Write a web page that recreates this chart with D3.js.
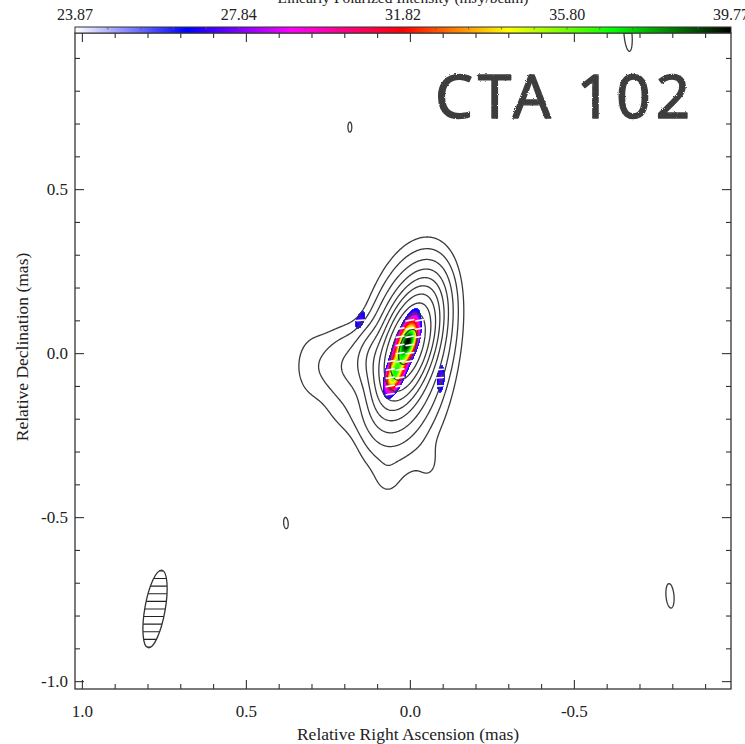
<!DOCTYPE html>
<html>
<head>
<meta charset="utf-8">
<script src="https://cdn.jsdelivr.net/npm/d3@7"></script>
<style>
  body { margin: 0; background: #fff; }
  svg { display: block; }
  text { font-family: "Liberation Serif", "DejaVu Serif", serif; fill: #222; }
</style>
</head>
<body>
<svg id="chart" width="745" height="744"></svg>
<script>
// ---- Total intensity model (convolved Gaussian components) ----
// offsets in mas (RA positive to the east), peak in Jy/beam, FWHM in mas, PA in deg east of north
const compName = ["core", "inner", "mid", "halo", "jetE1", "jetE2", "jetE3", "jetE4", "s1", "s2", "n1", "n2", "n3", "n4"];
const compX    = [0.006, 0.008, 0.010, 0.005, 0.100, 0.190, 0.300, 0.200, 0.070, -0.060, 0.183, 0.378, -0.665, -0.793];
const compY    = [0.020, 0.005, -0.020, -0.050, -0.020, -0.040, -0.040, -0.190, -0.380, -0.340, 0.689, -0.518, 0.972, -0.740];
const compAmp  = [0.920, 0.080, 0.010, 0.0015, 0.020, 0.0055, 0.0020, 0.0012, 0.0009, 0.0009, 0.0021, 0.0021, 0.0021, 0.0021];
const compMaj  = [0.172, 0.270, 0.380, 0.540, 0.118, 0.165, 0.200, 0.120, 0.090, 0.100, 0.045, 0.050, 0.150, 0.108];
const compMin  = [0.072, 0.115, 0.165, 0.230, 0.082, 0.118, 0.110, 0.090, 0.060, 0.060, 0.017, 0.020, 0.035, 0.035];
const compPA   = [-18, -15, -8, -4, 0, 0, 0, 40, 0, 0, 0, 5, 5, 5];

// contour levels (Jy/beam), doubling steps
const contourLevels = [0.0015, 0.003, 0.006, 0.012, 0.024, 0.048, 0.096, 0.192, 0.384, 0.768];

// ---- Linearly polarized intensity components (mJy/beam) ----
const polX    = [0.024, 0.000, 0.052, 0.152, -0.095];
const polY    = [0.000, 0.037, -0.073, 0.101, -0.082];
const polAmp  = [34.0, 7.0, 5.0, 27.3, 27.3];
const polMaj  = [0.456, 0.090, 0.080, 0.207, 0.276];
const polMin  = [0.107, 0.050, 0.045, 0.092, 0.080];
const polPA   = [-18, -18, -18, -20, -5];
const polEVPA = [100, 106, 97, 95, 93];   // electric vector position angle, deg
const polCut  = 26.0;                     // blanking level of the raster (mJy/beam)

// colour bar
const colorTicks    = [23.87, 27.84, 31.82, 35.80, 39.77];
const colorStopFrac = [0, 0.17, 0.33, 0.50, 0.66, 0.82, 1];
const colorStopHex  = ["#ffffff", "#0000ff", "#ff00ff", "#ff0000", "#ffff00", "#00ff00", "#000000"];

// axes
const xMajorTicks = [1.0, 0.5, 0.0, -0.5];
const yMajorTicks = [0.5, 0.0, -0.5, -1.0];
const minorTicks  = [-0.9, -0.8, -0.7, -0.6, -0.4, -0.3, -0.2, -0.1, 0.1, 0.2, 0.3, 0.4, 0.6, 0.7, 0.8, 0.9];

// restoring beam
const beamX = 0.777, beamY = -0.780, beamMaj = 0.240, beamMin = 0.062, beamPA = -10;

// ---------------------------------------------------------------
const svg = d3.select("#chart");
const L = 75, R = 731, T = 33, B = 689;
const xScale = d3.scaleLinear().domain([1.021, -0.979]).range([L, R]);
const yScale = d3.scaleLinear().domain([0.976, -1.024]).range([T, B]);
const pxPerMas = Math.abs(xScale(1) - xScale(0));

const defs = svg.append("defs");
defs.append("clipPath").attr("id", "plotClip")
  .append("rect").attr("x", L).attr("y", T).attr("width", R - L).attr("height", B - T);

function gaussOne(k, xs, ys, amp, maj, min, pa, x, y) {
  const th = pa[k] * Math.PI / 180, sn = Math.sin(th), cs = Math.cos(th);
  const dx = x - xs[k], dy = y - ys[k];
  const u = dx * sn + dy * cs, v = dx * cs - dy * sn;
  return amp[k] * Math.exp(-4 * Math.LN2 * (u * u / (maj[k] * maj[k]) + v * v / (min[k] * min[k])));
}
function polAt(x, y) {
  let s = 0;
  for (let k = 0; k < polX.length; k++) s += gaussOne(k, polX, polY, polAmp, polMaj, polMin, polPA, x, y);
  return s;
}

// ---- total intensity grid ----
const step = 0.003;
const [xHi, xLo] = xScale.domain();
const [yHi, yLo] = yScale.domain();
const nx = Math.round((xHi - xLo) / step), ny = Math.round((yHi - yLo) / step);
const grid = new Float64Array(nx * ny);
compX.forEach((cx, k) => {
  const cy = compY[k];
  const th = compPA[k] * Math.PI / 180, sn = Math.sin(th), cs = Math.cos(th);
  const km = 4 * Math.LN2 / (compMaj[k] ** 2), kn = 4 * Math.LN2 / (compMin[k] ** 2);
  const reach = compMaj[k] * 2.3;
  const i0 = Math.max(0, Math.floor((xHi - (cx + reach)) / step));
  const i1 = Math.min(nx - 1, Math.ceil((xHi - (cx - reach)) / step));
  const j0 = Math.max(0, Math.floor((yHi - (cy + reach)) / step));
  const j1 = Math.min(ny - 1, Math.ceil((yHi - (cy - reach)) / step));
  for (let j = j0; j <= j1; j++) {
    const dy = yHi - (j + 0.5) * step - cy;
    for (let i = i0; i <= i1; i++) {
      const dx = xHi - (i + 0.5) * step - cx;
      const u = dx * sn + dy * cs, v = dx * cs - dy * sn;
      grid[j * nx + i] += compAmp[k] * Math.exp(-(km * u * u + kn * v * v));
    }
  }
});

const contours = d3.contours().size([nx, ny]).thresholds(contourLevels)(grid);
const gridProj = d3.geoTransform({
  point(gx, gy) { this.stream.point(xScale(xHi - gx * step), yScale(yHi - gy * step)); }
});
const contourPath = d3.geoPath(gridProj);

// ---- colour map ----
const [pMin, pMax] = d3.extent(colorTicks);
const colorScale = d3.scaleLinear()
  .domain(colorStopFrac.map(f => pMin + f * (pMax - pMin)))
  .range(colorStopHex)
  .clamp(true);

// ---- polarized intensity raster ----
const cw = R - L, ch = B - T;
const canvas = document.createElement("canvas");
canvas.width = cw; canvas.height = ch;
const ctx = canvas.getContext("2d");
const img = ctx.createImageData(cw, ch);
for (let py = 0; py < ch; py++) {
  const y = yScale.invert(T + py + 0.5);
  for (let px = 0; px < cw; px++) {
    const x = xScale.invert(L + px + 0.5);
    const p = polAt(x, y);
    if (p >= polCut) {
      const c = d3.rgb(colorScale(p));
      const o = (py * cw + px) * 4;
      img.data[o] = c.r; img.data[o + 1] = c.g; img.data[o + 2] = c.b; img.data[o + 3] = 255;
    }
  }
}
ctx.putImageData(img, 0, 0);

const plot = svg.append("g").attr("clip-path", "url(#plotClip)");
plot.append("image")
  .attr("x", L).attr("y", T).attr("width", cw).attr("height", ch)
  .attr("href", canvas.toDataURL());

plot.append("g").selectAll("path").data(contours).join("path")
  .attr("d", contourPath)
  .attr("fill", "none")
  .attr("stroke", "#3a3a3a")
  .attr("stroke-width", 1.3)
  .attr("stroke-linejoin", "round");

// ---- EVPA sticks on a regular sampling grid ----
const stickDx = 0.030, stickDy = 0.025, stickLen = 0.024;
const sticks = [];
for (let ix = -10; ix <= 10; ix++) {
  for (let iy = -12; iy <= 12; iy++) {
    const gx = ix * stickDx, gy = iy * stickDy;
    const p = polAt(gx, gy);
    if (p >= polCut + 0.3) {
      let best = 0, bv = -1;
      polX.forEach((_, k) => {
        const v = gaussOne(k, polX, polY, polAmp, polMaj, polMin, polPA, gx, gy);
        if (v > bv) { bv = v; best = k; }
      });
      sticks.push({ x: gx, y: gy, evpa: polEVPA[best] });
    }
  }
}
const rad = d => d.evpa * Math.PI / 180;
plot.append("g").selectAll("line").data(sticks).join("line")
  .attr("x1", d => xScale(d.x - Math.sin(rad(d)) * stickLen / 2))
  .attr("y1", d => yScale(d.y - Math.cos(rad(d)) * stickLen / 2))
  .attr("x2", d => xScale(d.x + Math.sin(rad(d)) * stickLen / 2))
  .attr("y2", d => yScale(d.y + Math.cos(rad(d)) * stickLen / 2))
  .attr("stroke", "#fff").attr("stroke-width", 1.6).attr("stroke-linecap", "round");

// ---- restoring beam ----
const bcx = xScale(beamX), bcy = yScale(beamY);
const brx = beamMin / 2 * pxPerMas, bry = beamMaj / 2 * pxPerMas;
defs.append("clipPath").attr("id", "beamClip")
  .append("ellipse").attr("cx", bcx).attr("cy", bcy).attr("rx", brx).attr("ry", bry)
  .attr("transform", `rotate(${-beamPA},${bcx},${bcy})`);
const hatch = svg.append("g").attr("clip-path", "url(#beamClip)");
hatch.selectAll("line").data(d3.range(-6, 7)).join("line")
  .attr("x1", bcx - 30).attr("x2", bcx + 30)
  .attr("y1", k => bcy + k * 7.6).attr("y2", k => bcy + k * 7.6)
  .attr("stroke", "#222").attr("stroke-width", 1.1);
svg.append("ellipse").attr("cx", bcx).attr("cy", bcy).attr("rx", brx).attr("ry", bry)
  .attr("transform", `rotate(${-beamPA},${bcx},${bcy})`)
  .attr("fill", "none").attr("stroke", "#333").attr("stroke-width", 1.3);

// ---- axes (ticks inward on all sides) ----
const fmt = d => d.toFixed(1);
function styleAxis(g) {
  g.select(".domain").remove();
  g.selectAll(".tick line").attr("stroke", "#333").attr("stroke-width", 1.1);
  g.selectAll("text").style("font-size", "17px").attr("fill", "#222");
}
svg.append("g").attr("transform", `translate(0,${B})`)
  .call(d3.axisBottom(xScale).tickValues(xMajorTicks).tickFormat(fmt).tickSizeInner(-9).tickSizeOuter(0).tickPadding(16))
  .call(styleAxis);
svg.append("g").attr("transform", `translate(0,${B})`)
  .call(d3.axisBottom(xScale).tickValues(minorTicks).tickFormat("").tickSizeInner(-5).tickSizeOuter(0))
  .call(styleAxis);
svg.append("g").attr("transform", `translate(0,${T})`)
  .call(d3.axisTop(xScale).tickValues(xMajorTicks).tickFormat("").tickSizeInner(-9).tickSizeOuter(0))
  .call(styleAxis);
svg.append("g").attr("transform", `translate(0,${T})`)
  .call(d3.axisTop(xScale).tickValues(minorTicks).tickFormat("").tickSizeInner(-5).tickSizeOuter(0))
  .call(styleAxis);
svg.append("g").attr("transform", `translate(${L},0)`)
  .call(d3.axisLeft(yScale).tickValues(yMajorTicks).tickFormat(fmt).tickSizeInner(-9).tickSizeOuter(0).tickPadding(7))
  .call(styleAxis);
svg.append("g").attr("transform", `translate(${L},0)`)
  .call(d3.axisLeft(yScale).tickValues(minorTicks).tickFormat("").tickSizeInner(-5).tickSizeOuter(0))
  .call(styleAxis);
svg.append("g").attr("transform", `translate(${R},0)`)
  .call(d3.axisRight(yScale).tickValues(yMajorTicks).tickFormat("").tickSizeInner(-9).tickSizeOuter(0))
  .call(styleAxis);
svg.append("g").attr("transform", `translate(${R},0)`)
  .call(d3.axisRight(yScale).tickValues(minorTicks).tickFormat("").tickSizeInner(-5).tickSizeOuter(0))
  .call(styleAxis);

svg.append("rect").attr("x", L).attr("y", T).attr("width", R - L).attr("height", B - T)
  .attr("fill", "none").attr("stroke", "#333").attr("stroke-width", 1.3);

svg.append("text").attr("x", (L + R) / 2 + 5).attr("y", 740).attr("text-anchor", "middle")
  .style("font-size", "17.5px").text("Relative Right Ascension (mas)");
svg.append("text").attr("transform", `translate(28,${(T + B) / 2 - 14}) rotate(-90)`)
  .attr("text-anchor", "middle").style("font-size", "17.5px").text("Relative Declination (mas)");

// ---- colour bar ----
const cbTop = 27, cbH = T - cbTop;
const cbScale = d3.scaleLinear().domain([pMin, pMax]).range([L, R]);
const grad = defs.append("linearGradient").attr("id", "cbGrad").attr("x1", "0%").attr("x2", "100%");
grad.selectAll("stop").data(colorStopFrac).join("stop")
  .attr("offset", d => d * 100 + "%").attr("stop-color", (d, i) => colorStopHex[i]);
svg.append("rect").attr("x", L).attr("y", cbTop).attr("width", R - L).attr("height", cbH)
  .attr("fill", "url(#cbGrad)").attr("stroke", "#333").attr("stroke-width", 1);
svg.append("g").selectAll("line").data(d3.range(1, 20)).join("line")
  .attr("x1", i => cbScale(pMin + i * (pMax - pMin) / 20)).attr("x2", i => cbScale(pMin + i * (pMax - pMin) / 20))
  .attr("y1", cbTop).attr("y2", cbTop + 2.5).attr("stroke", "#555").attr("stroke-width", 0.8);
svg.append("g").selectAll("text").data(colorTicks).join("text")
  .attr("x", d => cbScale(d)).attr("y", 20).attr("text-anchor", "middle")
  .style("font-size", "16px").text(d => d.toFixed(2));
svg.append("text").attr("x", (L + R) / 2).attr("y", 3).attr("text-anchor", "middle")
  .style("font-size", "15.5px").text("Linearly Polarized Intensity (mJy/beam)");

// ---- source name ----
const rough = defs.append("filter").attr("id", "chalk").attr("x", "-5%").attr("y", "-10%").attr("width", "110%").attr("height", "120%");
rough.append("feTurbulence").attr("type", "fractalNoise").attr("baseFrequency", 0.9).attr("numOctaves", 2).attr("result", "noise");
rough.append("feDisplacementMap").attr("in", "SourceGraphic").attr("in2", "noise").attr("scale", 2.5);
svg.append("text").attr("x", 435).attr("y", 118)
  .attr("textLength", 255).attr("lengthAdjust", "spacing")
  .attr("filter", "url(#chalk)")
  .style("font-family", "'Noto Sans', 'DejaVu Sans', sans-serif")
  .style("font-size", "60px").style("fill", "#3d3d3d")
  .style("stroke", "#3d3d3d").style("stroke-width", 1.4).style("stroke-linejoin", "round")
  .text("CTA 102");
</script>
</body>
</html>
